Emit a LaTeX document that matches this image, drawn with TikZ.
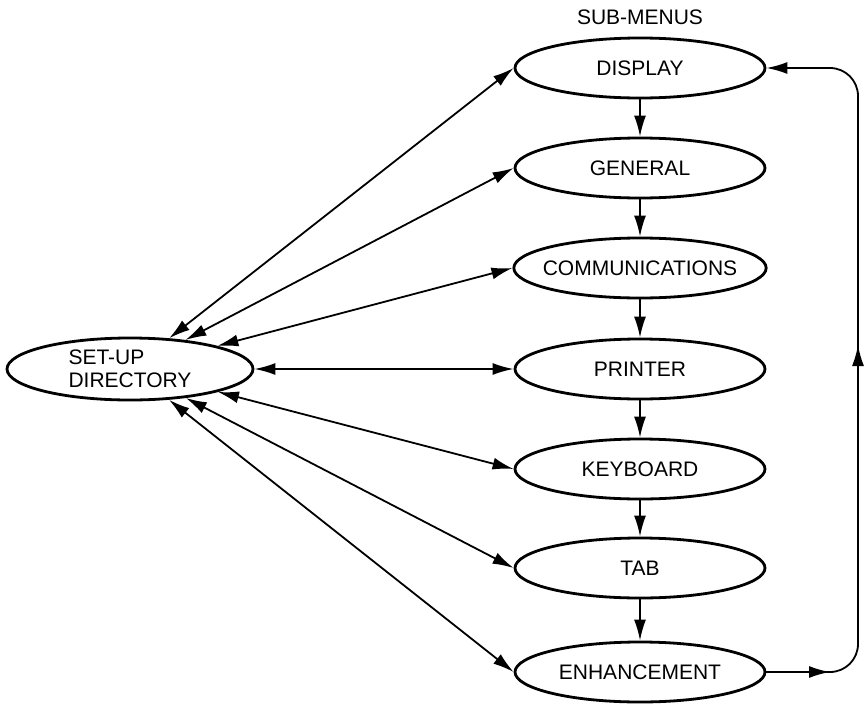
\documentclass[tikz,border=0pt]{standalone}
\usepackage{fontspec}
\setmainfont{Liberation Sans}
\usetikzlibrary{shapes.geometric, arrows.meta, positioning}

\begin{document}
\begin{tikzpicture}[x = 1pt, y = -1pt,
		menu/.style = {draw, ellipse, line width = 2.8pt, minimum width = 250pt, minimum height = 60pt, inner sep = 0pt, font = \fontsize{21}{23}\selectfont},
		link/.style = {line width = 1.8pt, {Latex[length = 21pt, width = 12pt]}-{Latex[length = 21pt, width = 12pt]}},
		flow/.style = {line width = 1.8pt, -{Latex[length = 21pt, width = 12pt]}}]
	\def\xSub{640};
	\def\xLoop{858};

	\useasboundingbox (0,0) rectangle (865,707);

	\begin{scope}
		\node [font = \fontsize{21}{23}\selectfont] (title) at (\xSub,17) {SUB-MENUS};
		\node [menu] (display) at (\xSub,68) {DISPLAY};
		\node [menu] (general) at (\xSub,168) {GENERAL};
		\node [menu, inner xsep = -8pt] (communications) at (\xSub,268) {COMMUNICATIONS};
		\node [menu] (printer) at (\xSub,369) {PRINTER};
		\node [menu] (keyboard) at (\xSub,469) {KEYBOARD};
		\node [menu] (tab) at (\xSub,568) {TAB};
		\node [menu] (enhancement) at (\xSub,672) {ENHANCEMENT};
		\node [menu, minimum width = 246pt, minimum height = 62pt, align = left] (setup) at (130,369) {SET-UP\\DIRECTORY};
	\end{scope}

	\begin{scope}
		\draw [flow] (display) -- (general);
		\draw [flow] (general) -- (communications);
		\draw [flow] (communications) -- (printer);
		\draw [flow] (printer) -- (keyboard);
		\draw [flow] (keyboard) -- (tab);
		\draw [flow] (tab) -- (enhancement);
	\end{scope}

	\begin{scope}
		\draw [link] (setup) -- (display.west);
		\draw [link] (setup) -- (general.west);
		\draw [link] (setup) -- (communications.west);
		\draw [link] (setup) -- (printer.west);
		\draw [link] (setup) -- (keyboard.west);
		\draw [link] (setup) -- (tab.west);
		\draw [link] (setup) -- (enhancement.west);
	\end{scope}

	% return loop
	\coordinate (loopBottom) at (\xLoop,672);
	\coordinate (loopTop) at (\xLoop,68);
	\coordinate (loopTip) at (830,672);
	\coordinate (loopUpTail) at (\xLoop,400);
	\coordinate (loopUpTip) at (\xLoop,345);
	\draw [flow, rounded corners = 28pt] (enhancement.east) -- (loopBottom) -- (loopTop) -- (display.east);
	\draw [flow] (enhancement.east) -- (loopTip);
	\draw [flow] (loopUpTail) -- (loopUpTip);
\end{tikzpicture}
\end{document}
